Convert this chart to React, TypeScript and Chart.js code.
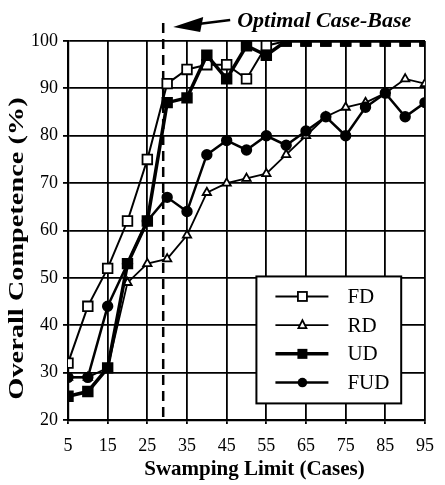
import React, { useEffect, useRef } from "react";
import { Chart, registerables } from "chart.js";

Chart.register(...registerables);

// ---- data ----
const swampingLimits = [5, 10, 15, 20, 25, 30, 35, 40, 45, 50, 55, 60, 65, 70, 75, 80, 85, 90, 95];
const FD = [32, 44, 52, 62, 75, 91, 94, 95, 95, 92, 99, 100, 100, 100, 100, 100, 100, 100, 100];
const RD = [29, 29, 31, 49, 53, 54, 59, 68, 70, 71, 72, 76, 80, 84, 86, 87, 89, 92, 91];
const UD = [25, 26, 31, 53, 62, 87, 88, 97, 92, 99, 97, 100, 100, 100, 100, 100, 100, 100, 100];
const FUD = [29, 29, 44, 53, 62, 67, 64, 76, 79, 77, 80, 78, 81, 84, 80, 86, 89, 84, 87];
const xTickValues = [5, 15, 25, 35, 45, 55, 65, 75, 85, 95];
const yTickValues = [20, 30, 40, 50, 60, 70, 80, 90, 100];
const optimalLimit = 29;
const annotationText = "Optimal Case-Base";
const xTitle = "Swamping Limit (Cases)";
const yTitle = "Overall Competence (%)";
const seriesNames = ["FD", "RD", "UD", "FUD"];

const SERIF = '"Liberation Serif", "Times New Roman", serif';

type Marker = "openSquare" | "openTriangle" | "filledSquare" | "filledCircle";
const seriesStyle: { marker: Marker; width: number }[] = [
  { marker: "openSquare", width: 2 },
  { marker: "openTriangle", width: 1.8 },
  { marker: "filledSquare", width: 3.5 },
  { marker: "filledCircle", width: 2.5 },
];

function drawMarker(ctx: CanvasRenderingContext2D, m: Marker, x: number, y: number) {
  ctx.save();
  ctx.strokeStyle = "#000";
  ctx.lineWidth = 1.8;
  if (m === "openSquare") {
    ctx.fillStyle = "#fff";
    ctx.fillRect(x - 4.5, y - 4.5, 9, 9);
    ctx.strokeRect(x - 4.5, y - 4.5, 9, 9);
  } else if (m === "openTriangle") {
    ctx.fillStyle = "#fff";
    ctx.beginPath();
    ctx.moveTo(x, y - 5);
    ctx.lineTo(x + 4, y + 3);
    ctx.lineTo(x - 4, y + 3);
    ctx.closePath();
    ctx.fill();
    ctx.stroke();
  } else if (m === "filledSquare") {
    ctx.fillStyle = "#000";
    ctx.fillRect(x - 5, y - 5, 10, 10);
  } else {
    ctx.fillStyle = "#000";
    ctx.beginPath();
    ctx.arc(x, y, 4.8, 0, Math.PI * 2);
    ctx.fill();
  }
  ctx.restore();
}

const overlayPlugin = {
  id: "overlay",
  beforeDatasetsDraw(chart: any) {
    const { ctx, chartArea, scales } = chart;
    const x = scales.x.getPixelForValue(optimalLimit);
    ctx.save();
    ctx.strokeStyle = "#000";
    ctx.lineWidth = 2.5;
    ctx.setLineDash([10, 6]);
    ctx.beginPath();
    ctx.moveTo(x, chartArea.top - 18);
    ctx.lineTo(x, chartArea.bottom);
    ctx.stroke();
    ctx.restore();
  },
  afterDatasetsDraw(chart: any) {
    const { ctx, chartArea, scales } = chart;
    const xs = scales.x;
    const ys = scales.y;
    // arrow + annotation
    const xo = xs.getPixelForValue(optimalLimit);
    const tipX = xo + 10;
    const tipY = chartArea.top - 14;
    ctx.save();
    ctx.fillStyle = "#000";
    ctx.strokeStyle = "#000";
    ctx.beginPath();
    ctx.moveTo(tipX, tipY);
    ctx.lineTo(tipX + 30, tipY - 10);
    ctx.lineTo(tipX + 27, tipY + 5);
    ctx.closePath();
    ctx.fill();
    ctx.lineWidth = 2.5;
    ctx.beginPath();
    ctx.moveTo(tipX + 25, tipY - 3);
    ctx.lineTo(tipX + 57, tipY - 7);
    ctx.stroke();
    ctx.font = `italic bold 22px ${SERIF}`;
    ctx.textBaseline = "alphabetic";
    ctx.textAlign = "left";
    ctx.fillText(annotationText, tipX + 64, tipY);
    ctx.restore();

    // legend box
    const bx0 = xs.getPixelForValue(52.5);
    const bx1 = xs.getPixelForValue(89);
    const by0 = ys.getPixelForValue(50.3);
    const by1 = ys.getPixelForValue(23.5);
    ctx.save();
    ctx.fillStyle = "#fff";
    ctx.fillRect(bx0, by0, bx1 - bx0, by1 - by0);
    ctx.strokeStyle = "#000";
    ctx.lineWidth = 2;
    ctx.strokeRect(bx0, by0, bx1 - bx0, by1 - by0);
    ctx.font = `21px ${SERIF}`;
    ctx.textBaseline = "middle";
    ctx.textAlign = "left";
    ctx.fillStyle = "#000";
    seriesNames.forEach((name, i) => {
      const ry = by0 + 20 + i * 28.7;
      const st = seriesStyle[i];
      ctx.lineWidth = st.width;
      ctx.beginPath();
      ctx.moveTo(bx0 + 19, ry);
      ctx.lineTo(bx0 + 72, ry);
      ctx.stroke();
      drawMarker(ctx, st.marker, bx0 + 46, ry);
      ctx.fillStyle = "#000";
      ctx.fillText(name, bx0 + 91, ry + 1);
    });
    ctx.restore();
  },
  afterDraw(chart: any) {
    const { ctx, chartArea } = chart;
    // y title
    ctx.save();
    ctx.translate(18, (chartArea.top + chartArea.bottom) / 2 + 18);
    ctx.rotate(-Math.PI / 2);
    ctx.scale(1.35, 1);
    ctx.font = `bold 21px ${SERIF}`;
    ctx.fillStyle = "#000";
    ctx.textAlign = "center";
    ctx.textBaseline = "middle";
    ctx.fillText(yTitle, 0, 0);
    ctx.restore();
    // x title
    ctx.save();
    ctx.font = `bold 21px ${SERIF}`;
    ctx.fillStyle = "#000";
    ctx.textAlign = "center";
    ctx.textBaseline = "middle";
    ctx.fillText(xTitle, (chartArea.left + chartArea.right) / 2 + 8, chartArea.bottom + 50);
    ctx.restore();
  },
};

function makeDataset(label: string, data: number[], idx: number, order: number) {
  const st = seriesStyle[idx];
  const open = st.marker === "openSquare" || st.marker === "openTriangle";
  const pointStyle = st.marker === "openTriangle" ? "triangle" : st.marker === "filledCircle" ? "circle" : "rect";
  const radius = st.marker === "openTriangle" ? 4.8 : st.marker === "filledCircle" ? 4.8 : 6.8;
  return {
    label,
    data: swampingLimits.map((x, i) => ({ x, y: data[i] })),
    borderColor: "#000",
    backgroundColor: open ? "#fff" : "#000",
    borderWidth: st.width,
    pointStyle,
    pointRadius: radius,
    pointBorderWidth: 1.8,
    pointBackgroundColor: open ? "#fff" : "#000",
    pointBorderColor: "#000",
    tension: 0,
    order,
  };
}

export default function App() {
  const ref = useRef<HTMLCanvasElement>(null);
  useEffect(() => {
    document.body.style.margin = "0";
    const canvas = ref.current!;
    const chart = new Chart(canvas, {
      type: "line",
      data: {
        datasets: [
          makeDataset("FD", FD, 0, 1),
          makeDataset("RD", RD, 1, 3),
          makeDataset("UD", UD, 2, 0),
          makeDataset("FUD", FUD, 3, 2),
        ] as any,
      },
      options: {
        animation: false,
        responsive: true,
        maintainAspectRatio: false,
        layout: { padding: { top: 41, right: 16, left: 0, bottom: 0 } },
        plugins: { legend: { display: false }, tooltip: { enabled: false } },
        scales: {
          x: {
            type: "linear",
            min: 5,
            max: 95,
            afterBuildTicks: (s: any) => {
              s.ticks = xTickValues.map((v) => ({ value: v }));
            },
            afterFit: (s: any) => {
              s.height = 65;
            },
            grid: { color: "#000", lineWidth: 1.8, tickLength: 4, drawTicks: true },
            border: { color: "#000", width: 2.2 },
            ticks: {
              color: "#000",
              font: { family: SERIF, size: 18 },
              padding: 11,
              maxRotation: 0,
              autoSkip: false,
            },
            title: { display: false },
          },
          y: {
            type: "linear",
            min: 20,
            max: 100,
            afterBuildTicks: (s: any) => {
              s.ticks = yTickValues.map((v) => ({ value: v }));
            },
            afterFit: (s: any) => {
              s.width = 68;
            },
            grid: { color: "#000", lineWidth: 1.8, tickLength: 5 },
            border: { color: "#000", width: 2.2 },
            ticks: {
              color: "#000",
              font: { family: SERIF, size: 18 },
              padding: 5,
              autoSkip: false,
            },
          },
        },
      } as any,
      plugins: [overlayPlugin],
    });
    return () => chart.destroy();
  }, []);
  return (
    <div style={{ width: 445, height: 485, position: "relative", background: "#fff" }}>
      <canvas ref={ref} />
    </div>
  );
}
